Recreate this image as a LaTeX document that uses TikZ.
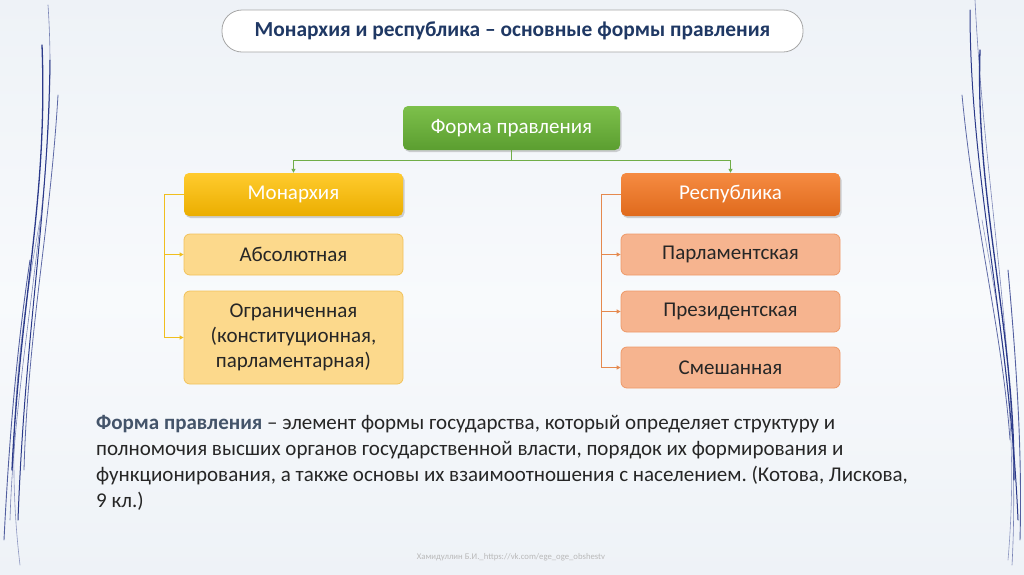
\documentclass[tikz,border=0pt]{standalone}
\usepackage{fontspec}
\setmainfont{Carlito}
\usetikzlibrary{arrows.meta,shadows}
\definecolor{bgtop}{HTML}{EEF2F7}
\definecolor{bgmid}{HTML}{F8FAFC}
\definecolor{navy}{HTML}{1F3864}
\definecolor{swoosh}{HTML}{2B3A8A}
\definecolor{gtop}{HTML}{7DC04B}
\definecolor{gbot}{HTML}{5B9E30}
\definecolor{ytop}{HTML}{FFCB2E}
\definecolor{ybot}{HTML}{EBAE00}
\definecolor{otop}{HTML}{F58B42}
\definecolor{obot}{HTML}{E06A1C}
\definecolor{lyfill}{HTML}{FCD98C}
\definecolor{lyline}{HTML}{F2C25A}
\definecolor{lofill}{HTML}{F6B48F}
\definecolor{loline}{HTML}{EE9968}
\definecolor{gline}{HTML}{70AD47}
\definecolor{yline}{HTML}{F0BE1E}
\definecolor{oline}{HTML}{E5894E}
\definecolor{bodytext}{HTML}{262626}
\definecolor{termcol}{HTML}{44546A}
\tikzset{
  topbox/.style={rounded corners=5pt, minimum width=219pt, minimum height=43pt,
    text=white, font=\fontsize{21}{24}\selectfont,
    drop shadow={opacity=0.35, shadow xshift=1.5pt, shadow yshift=-2pt}},
  subbox/.style={rounded corners=6pt, minimum width=219pt, draw, line width=0.8pt,
    text=bodytext, font=\fontsize{21}{25}\selectfont, align=center},
  yconn/.style={draw=yline, line width=0.9pt, -{Triangle[length=4pt,width=4pt]}},
  oconn/.style={draw=oline, line width=0.9pt, -{Triangle[length=4pt,width=4pt]}},
  gconn/.style={draw=gline, line width=0.9pt, -{Triangle[length=4pt,width=4pt]}},
  sw/.style={draw=swoosh, line cap=round},
}
\begin{document}
\frenchspacing
\begin{tikzpicture}[x=1pt,y=-1pt]
\useasboundingbox (0,0) rectangle (1024,574);
\shade[top color=bgtop, bottom color=bgmid] (0,0) rectangle (1024,300);
\shade[top color=bgmid, bottom color=bgtop] (0,300) rectangle (1024,574);

% swooshes left
\draw[sw, line width=1.3pt] (42,45) .. controls (48,200) and (20,300) .. (12,470);
\draw[sw, line width=1pt] (50,60) .. controls (48,220) and (25,330) .. (18,520);
\draw[sw, line width=0.8pt, opacity=0.75] (58,95) .. controls (50,230) and (28,330) .. (24,470);
\draw[sw, line width=0.6pt, opacity=0.6] (48,5) .. controls (60,180) and (15,350) .. (10,520);
\draw[sw, line width=0.6pt, opacity=0.5] (40,220) .. controls (20,330) and (5,440) .. (20,565);
\draw[sw, line width=0.9pt, opacity=0.8] (30,260) .. controls (15,360) and (8,460) .. (4,540);
% swooshes right
\draw[sw, line width=1.3pt] (980,50) .. controls (975,200) and (1015,330) .. (1014,480);
\draw[sw, line width=1pt] (970,10) .. controls (970,180) and (1010,330) .. (1018,520);
\draw[sw, line width=0.8pt, opacity=0.75] (962,95) .. controls (975,230) and (1002,330) .. (1010,440);
\draw[sw, line width=0.6pt, opacity=0.6] (975,0) .. controls (985,200) and (1022,380) .. (1012,565);
\draw[sw, line width=0.6pt, opacity=0.5] (982,220) .. controls (1000,320) and (1020,420) .. (1008,560);
\draw[sw, line width=0.9pt, opacity=0.8] (1008,270) .. controls (1018,380) and (1022,460) .. (1020,540);

% title
\node[draw=gray!70, fill=white, rounded corners=20pt, line width=0.8pt,
  minimum width=581pt, minimum height=42pt, text=navy,
  font=\bfseries\fontsize{21.4}{24}\selectfont] (title) at (512.5,31) {Монархия и республика – основные формы правления};

% top nodes
\node[topbox, top color=gtop, bottom color=gbot, minimum width=217pt, minimum height=44pt] (forma) at (511.5,128) {Форма правления};
\node[topbox, top color=ytop, bottom color=ybot] (mon) at (293.5,194.5) {Монархия};
\node[topbox, top color=otop, bottom color=obot] (rep) at (730.5,194.5) {Республика};

% sub nodes
\node[subbox, fill=lyfill, draw=lyline, minimum height=41pt] (abs) at (293.5,254.5) {Абсолютная};
\node[subbox, fill=lyfill, draw=lyline, minimum height=93pt] (ogr) at (293.5,337.5) {Ограниченная\\(конституционная,\\парламентарная)};
\node[subbox, fill=lofill, draw=loline, minimum height=41pt] (parl) at (730.5,254.5) {Парламентская};
\node[subbox, fill=lofill, draw=loline, minimum height=41pt] (prez) at (730.5,311.5) {Президентская};
\node[subbox, fill=lofill, draw=loline, minimum height=41pt] (smesh) at (730.5,367.5) {Смешанная};

% connectors
\coordinate (hub) at (511.5,160);
\draw[gconn] (forma.south) -- (hub) -| (mon.north);
\draw[gconn] (hub) -| (rep.north);
\draw[yconn] (mon.west) -| ([xshift=-19pt]abs.west) -- (abs.west);
\draw[yconn] ([xshift=-19pt]mon.west) |- (ogr.west);
\draw[oconn] (rep.west) -| ([xshift=-19pt]parl.west) -- (parl.west);
\draw[oconn] ([xshift=-19pt]rep.west) |- (prez.west);
\draw[oconn] ([xshift=-19pt]rep.west) |- (smesh.west);

% definition
\node[anchor=north west, inner sep=0pt, align=left, text=bodytext,
  font=\fontsize{21}{26}\selectfont] (def) at (96,415)
{{\bfseries\color{termcol}Форма правления} – элемент формы государства, который определяет структуру и\\
полномочия высших органов государственной власти, порядок их формирования и\\
функционирования, а также основы их взаимоотношения с населением. (Котова, Лискова,\\
9 кл.)};

% footer
\node[text=gray!55, font=\fontsize{8.7}{10}\selectfont] (foot) at (511,557) {Хамидуллин Б.И.\_https://vk.com/ege\_oge\_obshestv};
\end{tikzpicture}
\end{document}
